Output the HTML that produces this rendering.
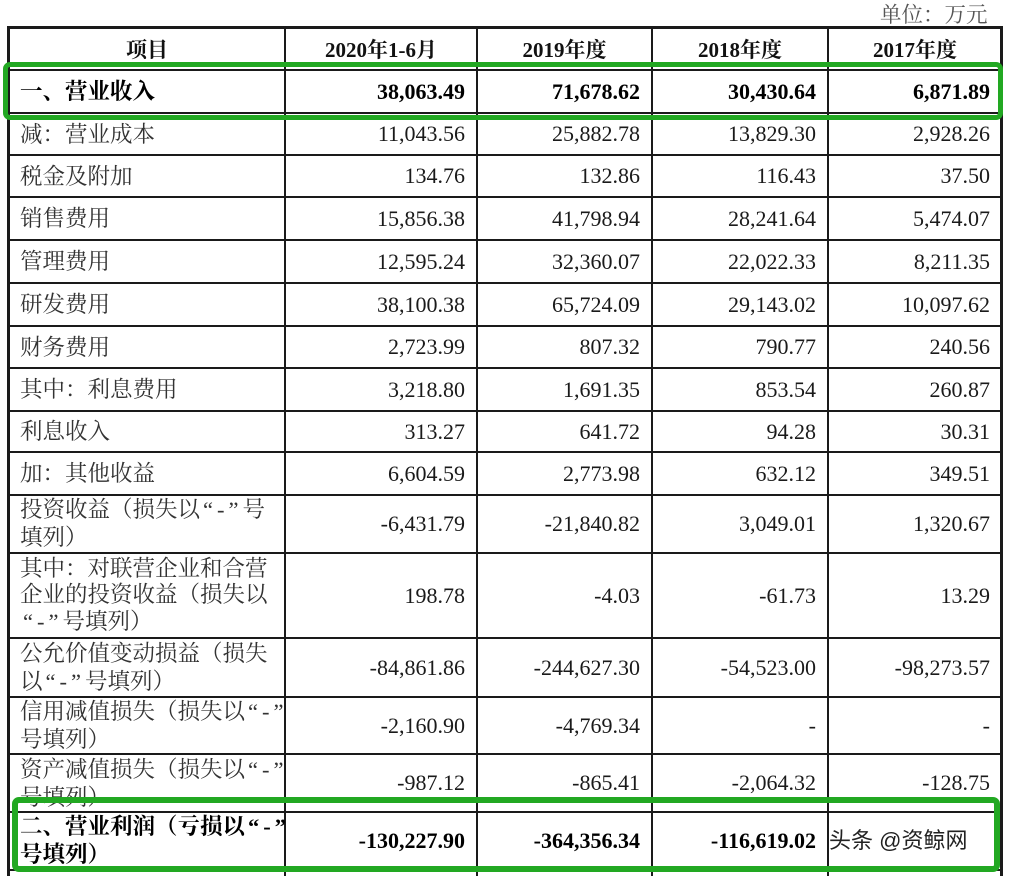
<!DOCTYPE html>
<html><head><meta charset="utf-8">
<style>
html,body{margin:0;padding:0;background:#fff;}
#c{position:relative;width:1012px;height:876px;overflow:hidden;background:#fff;}
.h{position:absolute;left:7px;width:996px;height:2px;background:#1a1a1a;}
.v{position:absolute;top:27px;width:2px;height:849px;background:#1a1a1a;}
.l{position:absolute;left:20px;width:262px;display:flex;align-items:center;
 font-family:"Liberation Serif","Noto Serif CJK SC",serif;font-size:22.5px;color:#333;line-height:27px;white-space:nowrap;}
.l > div{display:block;}
.n{position:absolute;display:flex;align-items:center;justify-content:flex-end;box-sizing:border-box;padding-right:12px;
 font-family:"Liberation Serif","Noto Serif CJK SC",serif;font-size:22px;color:#1a1a1a;}
.b{font-weight:bold;color:#000;}
.hd{position:absolute;top:27px;height:43px;display:flex;align-items:center;justify-content:center;
 font-family:"Liberation Serif","Noto Serif CJK SC",serif;font-size:21px;font-weight:bold;color:#111;}
.q{letter-spacing:4px;padding-left:3px;}
.g{position:absolute;box-sizing:border-box;border:5px solid #22a822;border-radius:7px;}
</style></head><body><div id="c">

<div style="position:absolute;left:880px;top:0px;height:26px;display:flex;align-items:center;font-family:'Liberation Serif','Noto Serif CJK SC',serif;font-size:21.5px;color:#555;">单位：万元</div>

<!-- horizontal lines -->
<div class="h" style="top:26px;height:3px"></div>
<div class="h" style="top:69px"></div>
<div class="h" style="top:112px"></div>
<div class="h" style="top:154px"></div>
<div class="h" style="top:196px"></div>
<div class="h" style="top:239px"></div>
<div class="h" style="top:282px"></div>
<div class="h" style="top:325px"></div>
<div class="h" style="top:367px"></div>
<div class="h" style="top:410px"></div>
<div class="h" style="top:451px"></div>
<div class="h" style="top:494px"></div>
<div class="h" style="top:552px"></div>
<div class="h" style="top:637px"></div>
<div class="h" style="top:696px"></div>
<div class="h" style="top:753px"></div>
<div class="h" style="top:811px"></div>
<div class="h" style="top:869px"></div>
<!-- vertical lines -->
<div class="v" style="left:7px;width:3px"></div>
<div class="v" style="left:284px"></div>
<div class="v" style="left:476px"></div>
<div class="v" style="left:651px"></div>
<div class="v" style="left:827px"></div>
<div class="v" style="left:1000px;width:3px"></div>

<!-- header -->
<div class="hd" style="left:9px;width:276px">项目</div>
<div class="hd" style="left:286px;width:190px">2020年1-6月</div>
<div class="hd" style="left:478px;width:173px">2019年度</div>
<div class="hd" style="left:653px;width:174px">2018年度</div>
<div class="hd" style="left:829px;width:172px">2017年度</div>

<!-- rows -->
<div class="l b" style="top:70px;height:43px"><div>一、营业收入</div></div>
<div class="n b" style="left:286px;width:191px;top:70px;height:43px">38,063.49</div>
<div class="n b" style="left:478px;width:174px;top:70px;height:43px">71,678.62</div>
<div class="n b" style="left:653px;width:175px;top:70px;height:43px">30,430.64</div>
<div class="n b" style="left:829px;width:173px;top:70px;height:43px">6,871.89</div>

<div class="l" style="top:113px;height:42px"><div>减：营业成本</div></div>
<div class="n" style="left:286px;width:191px;top:113px;height:42px">11,043.56</div>
<div class="n" style="left:478px;width:174px;top:113px;height:42px">25,882.78</div>
<div class="n" style="left:653px;width:175px;top:113px;height:42px">13,829.30</div>
<div class="n" style="left:829px;width:173px;top:113px;height:42px">2,928.26</div>

<div class="l" style="top:155px;height:42px"><div>税金及附加</div></div>
<div class="n" style="left:286px;width:191px;top:155px;height:42px">134.76</div>
<div class="n" style="left:478px;width:174px;top:155px;height:42px">132.86</div>
<div class="n" style="left:653px;width:175px;top:155px;height:42px">116.43</div>
<div class="n" style="left:829px;width:173px;top:155px;height:42px">37.50</div>

<div class="l" style="top:197px;height:43px"><div>销售费用</div></div>
<div class="n" style="left:286px;width:191px;top:197px;height:43px">15,856.38</div>
<div class="n" style="left:478px;width:174px;top:197px;height:43px">41,798.94</div>
<div class="n" style="left:653px;width:175px;top:197px;height:43px">28,241.64</div>
<div class="n" style="left:829px;width:173px;top:197px;height:43px">5,474.07</div>

<div class="l" style="top:240px;height:43px"><div>管理费用</div></div>
<div class="n" style="left:286px;width:191px;top:240px;height:43px">12,595.24</div>
<div class="n" style="left:478px;width:174px;top:240px;height:43px">32,360.07</div>
<div class="n" style="left:653px;width:175px;top:240px;height:43px">22,022.33</div>
<div class="n" style="left:829px;width:173px;top:240px;height:43px">8,211.35</div>

<div class="l" style="top:283px;height:43px"><div>研发费用</div></div>
<div class="n" style="left:286px;width:191px;top:283px;height:43px">38,100.38</div>
<div class="n" style="left:478px;width:174px;top:283px;height:43px">65,724.09</div>
<div class="n" style="left:653px;width:175px;top:283px;height:43px">29,143.02</div>
<div class="n" style="left:829px;width:173px;top:283px;height:43px">10,097.62</div>

<div class="l" style="top:326px;height:42px"><div>财务费用</div></div>
<div class="n" style="left:286px;width:191px;top:326px;height:42px">2,723.99</div>
<div class="n" style="left:478px;width:174px;top:326px;height:42px">807.32</div>
<div class="n" style="left:653px;width:175px;top:326px;height:42px">790.77</div>
<div class="n" style="left:829px;width:173px;top:326px;height:42px">240.56</div>

<div class="l" style="top:368px;height:43px"><div>其中：利息费用</div></div>
<div class="n" style="left:286px;width:191px;top:368px;height:43px">3,218.80</div>
<div class="n" style="left:478px;width:174px;top:368px;height:43px">1,691.35</div>
<div class="n" style="left:653px;width:175px;top:368px;height:43px">853.54</div>
<div class="n" style="left:829px;width:173px;top:368px;height:43px">260.87</div>

<div class="l" style="top:411px;height:41px"><div>利息收入</div></div>
<div class="n" style="left:286px;width:191px;top:411px;height:41px">313.27</div>
<div class="n" style="left:478px;width:174px;top:411px;height:41px">641.72</div>
<div class="n" style="left:653px;width:175px;top:411px;height:41px">94.28</div>
<div class="n" style="left:829px;width:173px;top:411px;height:41px">30.31</div>

<div class="l" style="top:452px;height:43px"><div>加：其他收益</div></div>
<div class="n" style="left:286px;width:191px;top:452px;height:43px">6,604.59</div>
<div class="n" style="left:478px;width:174px;top:452px;height:43px">2,773.98</div>
<div class="n" style="left:653px;width:175px;top:452px;height:43px">632.12</div>
<div class="n" style="left:829px;width:173px;top:452px;height:43px">349.51</div>

<div class="l" style="top:495px;height:58px;line-height:28px"><div>投资收益（损失以<span class="q">“-”</span>号<br>填列）</div></div>
<div class="n" style="left:286px;width:191px;top:495px;height:58px">-6,431.79</div>
<div class="n" style="left:478px;width:174px;top:495px;height:58px">-21,840.82</div>
<div class="n" style="left:653px;width:175px;top:495px;height:58px">3,049.01</div>
<div class="n" style="left:829px;width:173px;top:495px;height:58px">1,320.67</div>

<div class="l" style="top:553px;height:85px;line-height:26.5px"><div>其中：对联营企业和合营<br>企业的投资收益（损失以<br><span class="q">“-”</span>号填列）</div></div>
<div class="n" style="left:286px;width:191px;top:553px;height:85px">198.78</div>
<div class="n" style="left:478px;width:174px;top:553px;height:85px">-4.03</div>
<div class="n" style="left:653px;width:175px;top:553px;height:85px">-61.73</div>
<div class="n" style="left:829px;width:173px;top:553px;height:85px">13.29</div>

<div class="l" style="top:638px;height:59px;line-height:28px"><div>公允价值变动损益（损失<br>以<span class="q">“-”</span>号填列）</div></div>
<div class="n" style="left:286px;width:191px;top:638px;height:59px">-84,861.86</div>
<div class="n" style="left:478px;width:174px;top:638px;height:59px">-244,627.30</div>
<div class="n" style="left:653px;width:175px;top:638px;height:59px">-54,523.00</div>
<div class="n" style="left:829px;width:173px;top:638px;height:59px">-98,273.57</div>

<div class="l" style="top:697px;height:57px;line-height:28px"><div>信用减值损失（损失以<span class="q">“-”</span><br>号填列）</div></div>
<div class="n" style="left:286px;width:191px;top:697px;height:57px">-2,160.90</div>
<div class="n" style="left:478px;width:174px;top:697px;height:57px">-4,769.34</div>
<div class="n" style="left:653px;width:175px;top:697px;height:57px">-</div>
<div class="n" style="left:829px;width:173px;top:697px;height:57px">-</div>

<div class="l" style="top:754px;height:58px;line-height:28px;align-items:flex-start;padding-top:2px"><div>资产减值损失（损失以<span class="q">“-”</span><br>号填列）</div></div>
<div class="n" style="left:286px;width:191px;top:754px;height:58px">-987.12</div>
<div class="n" style="left:478px;width:174px;top:754px;height:58px">-865.41</div>
<div class="n" style="left:653px;width:175px;top:754px;height:58px">-2,064.32</div>
<div class="n" style="left:829px;width:173px;top:754px;height:58px">-128.75</div>

<div style="position:absolute;left:10px;top:813px;width:274px;height:56px;background:#fff"></div>
<div class="l b" style="top:812px;height:58px;line-height:28px"><div>二、营业利润（亏损以<span class="q">“-”</span><br>号填列）</div></div>
<div class="n b" style="left:286px;width:191px;top:812px;height:58px">-130,227.90</div>
<div class="n b" style="left:478px;width:174px;top:812px;height:58px">-364,356.34</div>
<div class="n b" style="left:653px;width:175px;top:812px;height:58px">-116,619.02</div>

<!-- green boxes -->
<div class="g" style="left:3px;top:62px;width:1000px;height:58px"></div>
<div class="g" style="left:12px;top:797px;width:988px;height:75px;border-width:6px"></div>

<!-- watermark -->
<div style="position:absolute;left:829px;top:825px;height:28px;display:flex;align-items:center;font-family:'Liberation Sans','Noto Sans CJK SC',sans-serif;font-size:22px;color:#222;white-space:nowrap;text-shadow:1px 1px 0 #fff,-1px -1px 0 #fff,1px -1px 0 #fff,-1px 1px 0 #fff;">头条 @资鲸网</div>

</div></body></html>
